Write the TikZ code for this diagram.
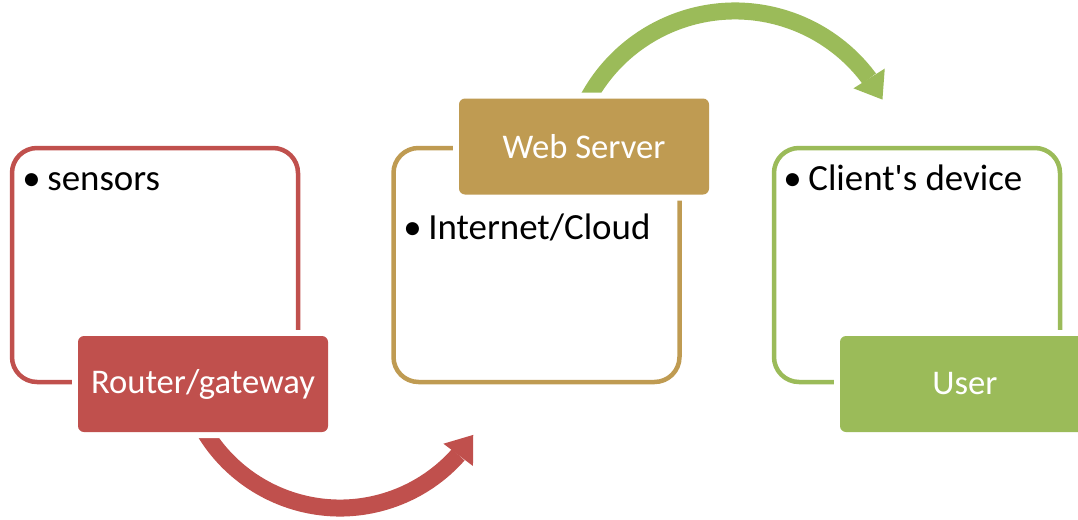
\documentclass[tikz,border=0pt]{standalone}
\usepackage{fontspec}
\setmainfont{Carlito}
\usepackage{xcolor}
\usetikzlibrary{arrows.meta, bending, positioning, calc, backgrounds}
\definecolor{iotred}{HTML}{C0504D}
\definecolor{iotgold}{HTML}{BF9B52}
\definecolor{iotgreen}{HTML}{9BBB59}
\tikzstyle{stagebox} = [rectangle, draw, line width=0.09cm, rounded corners=0.5cm, minimum width=5.72cm, minimum height=4.68cm, inner sep=0pt]
\tikzstyle{tagbox} = [rectangle, rounded corners=0.12cm, minimum width=5cm, minimum height=1.92cm, text=white, font=\fontsize{19.7}{24}\selectfont, preaction={draw=white, line width=0.24cm}]
\tikzstyle{item} = [anchor=base west, inner sep=0pt, font=\fontsize{21}{25}\selectfont]
\tikzstyle{bigarrow} = [line width=0.34cm, -{Triangle[length=0.5cm, width=0.74cm, line width=0pt]}]

\begin{document}
\begin{tikzpicture}
        \useasboundingbox (0,0) rectangle (21.56,10.38);

        % outlined stages
        \node (sensebox) [stagebox, draw=iotred] at (3.1,5.08) {};
        \node (cloudbox) [stagebox, draw=iotgold] at (10.73,5.08) {};
        \node (clientbox) [stagebox, draw=iotgreen] at (18.34,5.08) {};

        % bullet texts
        \node (sensors) [item] at (0.44,6.58) {•\hspace{0.18em}sensors};
        \node (internet) [item] at (8.06,5.60) {•\hspace{0.18em}Internet/Cloud};
        \node (device) [item] at (15.66,6.58) {•\hspace{0.18em}Client\textquotesingle s device};

        % filled tags
        \node (router) [tagbox, fill=iotred] at (4.06,2.70) {Router/gateway};
        \node (server) [tagbox, fill=iotgold] at (11.68,7.45) {Web Server};
        \node (user) [tagbox, fill=iotgreen] at (19.30,2.70) {User};

        % curved arrows, behind the tags
        \coordinate (redhub) at (6.8,3.38);
        \coordinate (greenhub) at (14.70,6.82);
        \coordinate (redstart) at ($(redhub)+(200:3.16)$);
        \coordinate (greenstart) at ($(greenhub)+(160:3.34)$);
        \begin{scope}[on background layer]
            \draw [bigarrow, iotred] (redstart) arc[start angle=200, end angle=327.5, radius=3.16cm];
            \draw [bigarrow, iotgreen] (greenstart) arc[start angle=160, end angle=28, radius=3.34cm];
        \end{scope}
    \end{tikzpicture}
\end{document}
